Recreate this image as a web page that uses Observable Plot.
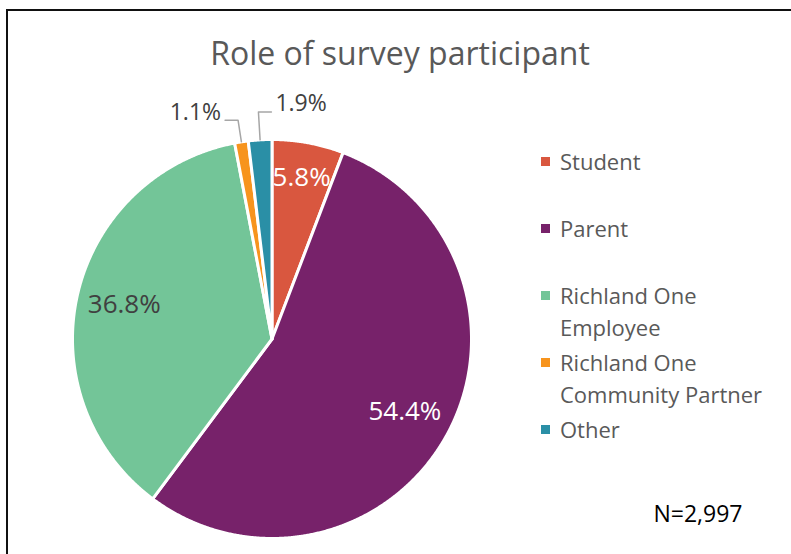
<!DOCTYPE html>
<html>
<head>
<meta charset="utf-8">
<script src="https://cdn.jsdelivr.net/npm/d3@7"></script>
<script src="https://cdn.jsdelivr.net/npm/@observablehq/plot@0.6"></script>
<style>
  body { margin: 0; background: #fff; }
  #chart { position: relative; width: 791px; height: 554px; overflow: hidden; background: #fff; font-family: "Open Sans", sans-serif; }
  #frame { position: absolute; left: 6px; top: 9px; width: 900px; height: 700px; border-left: 2px solid #111; border-top: 2px solid #111; }
  #plot { position: absolute; left: 0; top: 0; }
  #title { position: absolute; left: 0; width: 800px; top: 37px; text-align: center; font-size: 32px; line-height: 32px; color: #595959; white-space: nowrap; }
  .item { position: absolute; left: 540px; width: 250px; }
  .item .sw { position: absolute; left: 1px; top: 11px; width: 9px; height: 9px; }
  .item .lb { position: absolute; left: 20px; top: 0; width: 222px; font-size: 22px; line-height: 31.5px; color: #595959; }
  #note { position: absolute; left: 600px; width: 196px; text-align: center; top: 502px; font-size: 23px; line-height: 23px; color: #000; }
</style>
</head>
<body>
<div id="chart">
  <div id="frame"></div>
  <div id="plot"></div>
  <div id="title"></div>
  <div id="legend"></div>
  <div id="note"></div>
</div>
<script>
// ---- data ----
const titleText = "Role of survey participant";
const categories = ["Student", "Parent", "Richland One Employee", "Richland One Community Partner", "Other"];
const shares = [5.8, 54.4, 36.8, 1.1, 1.9];
const colors = ["#D9573F", "#77226A", "#73C598", "#F7941D", "#2A8FA6"];
const noteText = "N=2,997";

// ---- layout ----
const W = 791, H = 554;
const cx = 271.5, cy = 338.5, R = 199.5;

// slice geometry in unit circle coordinates (start at 12 o'clock, clockwise)
const total = d3.sum(shares);
let cum = 0;
const slices = categories.map((c, i) => {
  const a0 = cum / total * 2 * Math.PI;
  cum += shares[i];
  const a1 = cum / total * 2 * Math.PI;
  return { cat: c, share: shares[i], color: colors[i], a0, a1, mid: (a0 + a1) / 2 };
});

const polyPts = [];
for (const s of slices) {
  polyPts.push({ cat: s.cat, x: 0, y: 0 });
  const n = Math.max(2, Math.ceil((s.a1 - s.a0) / 0.005));
  for (let k = 0; k <= n; k++) {
    const a = s.a0 + (s.a1 - s.a0) * k / n;
    polyPts.push({ cat: s.cat, x: Math.sin(a), y: Math.cos(a) });
  }
}

const fmt = v => v.toFixed(1) + "%";
const inside = slices.filter(s => s.share >= 3).map(s => {
  const r = s.share < 10 ? 0.82 : 0.76;
  const dark = d3.lab(s.color).l > 65;
  return { cat: s.cat, x: r * Math.sin(s.mid), y: r * Math.cos(s.mid), text: fmt(s.share), dark };
});

const outsideSlices = slices.filter(s => s.share < 3);
const leaderPts = [];
const outside = [];
outsideSlices.forEach((s, k) => {
  const re = 1.11 + 0.03 * k;
  const side = k % 2 === 0 ? -1 : 1;
  const p0 = { x: Math.sin(s.mid), y: Math.cos(s.mid) };
  const p1 = { x: re * Math.sin(s.mid), y: re * Math.cos(s.mid) };
  const p2 = { x: p1.x + side * 0.065, y: p1.y };
  [p0, p1, p2].forEach(p => leaderPts.push({ cat: s.cat, ...p }));
  outside.push({ cat: s.cat, x: p2.x, y: p2.y, text: fmt(s.share), side });
});

const font = "Open Sans, sans-serif";
const plot = Plot.plot({
  width: W, height: H, margin: 0,
  style: { background: "transparent", overflow: "visible" },
  x: { domain: [-1, 1], range: [cx - R, cx + R], axis: null },
  y: { domain: [-1, 1], range: [cy + R, cy - R], axis: null },
  color: { domain: categories, range: colors },
  marks: [
    Plot.line(polyPts, { x: "x", y: "y", z: "cat", fill: "cat", stroke: "white", strokeWidth: 3, strokeLinejoin: "round", curve: "linear-closed" }),
    Plot.line(leaderPts, { x: "x", y: "y", z: "cat", stroke: "#A6A6A6", strokeWidth: 1.5 }),
    Plot.text(inside.filter(d => !d.dark), { x: "x", y: "y", text: "text", fill: "white", fontSize: 26, fontFamily: font }),
    Plot.text(inside.filter(d => d.dark), { x: "x", y: "y", text: "text", fill: "#404040", fontSize: 26, fontFamily: font }),
    Plot.text(outside.filter(d => d.side < 0), { x: "x", y: "y", text: "text", fill: "#404040", fontSize: 23, fontFamily: font, textAnchor: "end", dx: -4, dy: -8 }),
    Plot.text(outside.filter(d => d.side > 0), { x: "x", y: "y", text: "text", fill: "#404040", fontSize: 23, fontFamily: font, textAnchor: "start", dx: 4, dy: -8 })
  ]
});
document.getElementById("plot").appendChild(plot);

document.getElementById("title").textContent = titleText;
document.getElementById("note").textContent = noteText;

const legend = document.getElementById("legend");
categories.forEach((c, i) => {
  const item = document.createElement("div");
  item.className = "item";
  item.style.top = (146 + 67 * i) + "px";
  const sw = document.createElement("div");
  sw.className = "sw";
  sw.style.background = colors[i];
  const lb = document.createElement("div");
  lb.className = "lb";
  lb.textContent = c;
  item.appendChild(sw);
  item.appendChild(lb);
  legend.appendChild(item);
});
</script>
</body>
</html>
